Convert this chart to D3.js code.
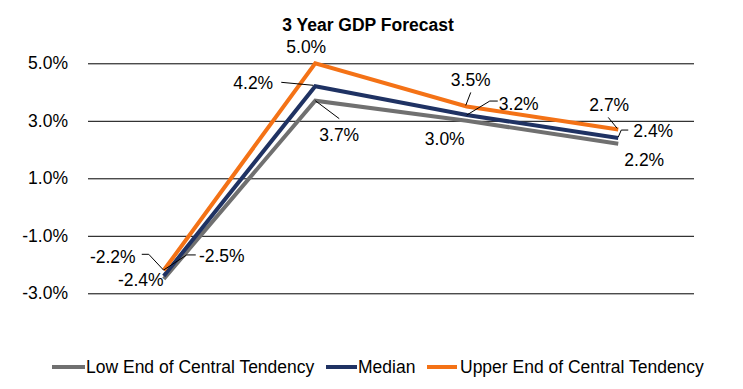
<!DOCTYPE html>
<html>
<head>
<meta charset="utf-8">
<script src="https://cdn.jsdelivr.net/npm/d3@7"></script>
<style>
  html, body { margin: 0; padding: 0; background: #fff; }
  text { font-family: Arial, "Liberation Sans", Helvetica, sans-serif; fill: #000; }
</style>
</head>
<body>
<svg id="chart" width="743" height="389"></svg>
<script>
// ---- data ----
const categories = ["2009", "2010", "2011", "2012"];
const lowEnd = [-2.5, 3.7, 3.0, 2.2];
const median = [-2.4, 4.2, 3.2, 2.4];
const upperEnd = [-2.2, 5.0, 3.5, 2.7];
const yTicks = [-3, -1, 1, 3, 5];
const seriesNames = ["Low End of Central Tendency", "Median", "Upper End of Central Tendency"];
const title = "3 Year GDP Forecast";

// ---- layout ----
const plot = { left: 88, right: 694, top: 63.3, bottom: 293.3 };
const colors = ["#707070", "#1f3263", "#f47216"];
const seriesValues = [lowEnd, median, upperEnd];
const fmt = d => d3.format(".1f")(d).replace("\u2212", "-") + "%";

const svg = d3.select("#chart");
const x = d3.scalePoint().domain(categories).range([plot.left, plot.right]).padding(0.5);
const y = d3.scaleLinear().domain([-3, 5]).range([plot.bottom, plot.top]);

// title
svg.append("text").attr("x", 368).attr("y", 30.5).attr("text-anchor", "middle")
  .style("font-size", "17.5px").style("font-weight", "bold").text(title);

// gridlines + y axis labels
const yAxis = d3.axisLeft(y).tickValues(yTicks)
  .tickSize(-(plot.right - plot.left)).tickPadding(20)
  .tickFormat(fmt);
const gAxis = svg.append("g").attr("transform", `translate(${plot.left},0)`).call(yAxis);
gAxis.select(".domain").remove();
gAxis.selectAll(".tick line").attr("stroke", "#000").attr("stroke-width", 1);
gAxis.selectAll(".tick text").style("font-size", "17.5px").attr("fill", "#000")
  .style("font-family", 'Arial, "Liberation Sans", Helvetica, sans-serif');

// lines
const line = d3.line().x((d, i) => x(categories[i])).y(d => y(d));
seriesValues.forEach((vals, s) => {
  svg.append("path").datum(vals).attr("d", line)
    .attr("fill", "none").attr("stroke", colors[s]).attr("stroke-width", 4)
    .attr("stroke-linejoin", "miter");
});

// data labels: label center and leader path relative to the data point
const labelLayout = [
  { s: 2, i: 0, dx: -51, dy: -13, leader: [[-22, -16], [-15, -16], [0, 0]] },
  { s: 1, i: 0, dx: -23, dy: 4, leader: null },
  { s: 0, i: 0, dx: 58, dy: -23, leader: [[32, -24], [23, -24], [0, -9]] },
  { s: 2, i: 1, dx: -9, dy: -16, leader: null },
  { s: 1, i: 1, dx: -62, dy: -3, leader: [[-34, -4], [-2, -1]] },
  { s: 0, i: 1, dx: 24, dy: 34, leader: [[24, 18], [0, 0]] },
  { s: 2, i: 2, dx: 4, dy: -26, leader: [[4, -14], [-1, -1]] },
  { s: 1, i: 2, dx: 52, dy: -11, leader: [[0, 0], [23, -14], [31, -14]] },
  { s: 0, i: 2, dx: -22, dy: 18, leader: null },
  { s: 2, i: 3, dx: -9, dy: -24, leader: [[-10, -12], [-1, -1]] },
  { s: 1, i: 3, dx: 35, dy: -7, leader: [[0, -1], [3, -8], [10, -8]] },
  { s: 0, i: 3, dx: 26, dy: 16, leader: null }
];
labelLayout.forEach(l => {
  const px = x(categories[l.i]), py = y(seriesValues[l.s][l.i]);
  if (l.leader) {
    svg.append("path")
      .attr("d", d3.line()(l.leader.map(p => [px + p[0], py + p[1]])))
      .attr("fill", "none").attr("stroke", "#000").attr("stroke-width", 1);
  }
  svg.append("text").attr("x", px + l.dx).attr("y", py + l.dy)
    .attr("text-anchor", "middle").attr("dominant-baseline", "central")
    .style("font-size", "17.5px")
    .text(fmt(seriesValues[l.s][l.i]));
});

// legend
const legendItems = [
  { x0: 52, x1: 85, tx: 86 },
  { x0: 326, x1: 357, tx: 358 },
  { x0: 427, x1: 457, tx: 460 }
];
const ly = 367;
seriesNames.forEach((name, s) => {
  const it = legendItems[s];
  svg.append("line").attr("x1", it.x0).attr("x2", it.x1).attr("y1", ly).attr("y2", ly)
    .attr("stroke", colors[s]).attr("stroke-width", 4);
  svg.append("text").attr("x", it.tx).attr("y", ly).attr("dominant-baseline", "central")
    .style("font-size", "17.5px").text(name);
});
</script>
</body>
</html>
